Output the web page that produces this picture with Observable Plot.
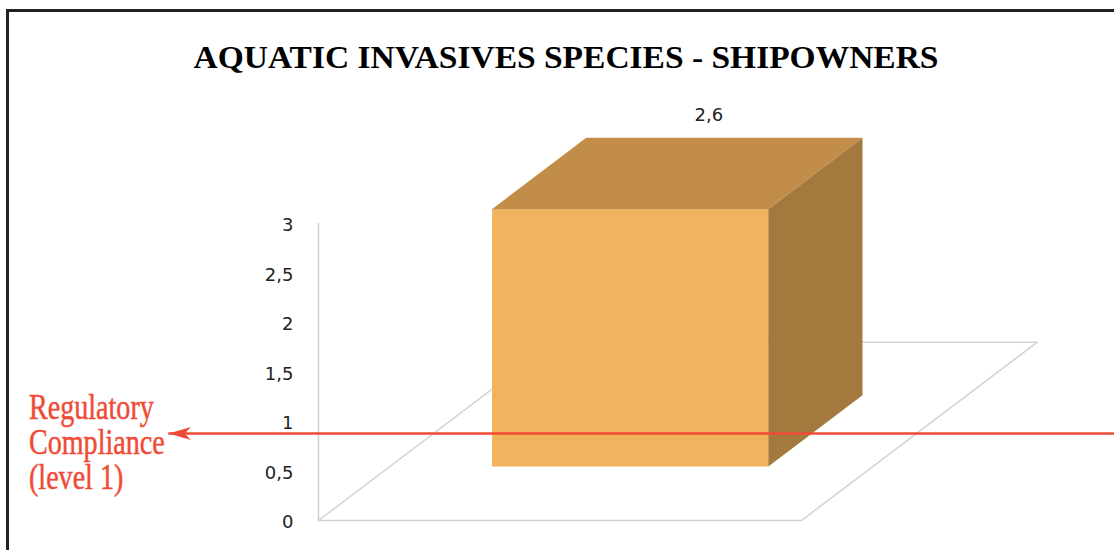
<!DOCTYPE html>
<html>
<head>
<meta charset="utf-8">
<script src="https://cdn.jsdelivr.net/npm/d3@7"></script>
<script src="https://cdn.jsdelivr.net/npm/@observablehq/plot@0.6"></script>
<style>
  html, body { margin: 0; padding: 0; background: #fff; }
  #wrap { position: relative; width: 1114px; height: 550px; overflow: hidden; background: #fff; }
  #frame { position: absolute; left: 6px; top: 9px; width: 1300px; height: 800px; border: 3px solid #222; box-sizing: border-box; }
  #chart { position: absolute; left: 0; top: 0; }
  #title { position: absolute; left: 566px; top: 42px; white-space: nowrap;
           font: bold 31px/31px "Liberation Serif", serif; color: #000;
           transform-origin: center top; }
  #note { position: absolute; left: 29px; top: 390px; white-space: nowrap;
          font: 36px/35px "Liberation Serif", serif; color: #EF4B36;
          -webkit-text-stroke: 0.5px #EF4B36;
          transform-origin: left top; transform: scaleX(0.78); }
</style>
</head>
<body>
<div id="wrap">
  <div id="frame"></div>
  <div id="chart"></div>
  <div id="title">AQUATIC INVASIVES SPECIES - SHIPOWNERS</div>
  <div id="note">Regulatory<br>Compliance<br>(level 1)</div>
</div>
<script>
// ---- data ----
const categories = ["Shipowners"];
const values = [2.6];
const valueLabels = ["2,6"];
const yTicks = [0, 0.5, 1, 1.5, 2, 2.5, 3];
const yTickLabels = ["0", "0,5", "1", "1,5", "2", "2,5", "3"];
const complianceLevel = [0.88];   // red annotation line, as drawn on the front axis

// ---- 3D look (style constants) ----
const DX = 0.4876;   // x-units of shift for full floor depth
const DY = 1.80;     // y-units of shift for full floor depth
const barHalf = 0.286, d0 = 0.3, d1 = 0.7;
const red = "#EF4A35";

const n = categories.length;
const bars = categories.map((c, i) => ({c, v: values[i], label: valueLabels[i], L: i + 0.5 - barHalf, R: i + 0.5 + barHalf}));

const floorPts = [
  {x: 0, y: 0}, {x: n, y: 0}, {x: n + DX, y: DY}, {x: DX, y: DY}, {x: 0, y: 0}
];
const frontFaces = bars.map(b => ({c: b.c, x1: b.L + d0 * DX, x2: b.R + d0 * DX, y1: d0 * DY, y2: b.v + d0 * DY}));
const topFaces = bars.flatMap(b => [d0, d1].map(d => ({c: b.c, x1: b.L + d * DX, y1: b.v + d * DY, x2: b.R + d * DX, y2: b.v + d * DY})));
const sideFaces = bars.flatMap(b => [d0, d1].map(d => ({c: b.c, x1: b.R + d * DX, y1: d * DY, x2: b.R + d * DX, y2: b.v + d * DY})));

const compliance = complianceLevel.map(v => ({level: v, from: n + 0.65, to: -0.31}));

const arrowHead = {
  draw(ctx) {
    ctx.moveTo(0, 0);
    ctx.lineTo(22, -6.5);
    ctx.lineTo(16, 0);
    ctx.lineTo(22, 6.5);
    ctx.closePath();
  }
};

const chart = Plot.plot({
  width: 1114,
  height: 550,
  marginLeft: 318,
  marginRight: 313,
  marginTop: 223,
  marginBottom: 30,
  x: {domain: [0, n], axis: null},
  y: {domain: [0, 3], axis: null},
  style: {fontFamily: "DejaVu Sans", fontSize: "18px", color: "#222", background: "transparent", overflow: "visible"},
  marks: [
    Plot.line(floorPts, {x: "x", y: "y", stroke: "#d2d2d2", strokeWidth: 1.5}),
    Plot.ruleX([0], {y1: 0, y2: 3, stroke: "#cfcfcf", strokeWidth: 1.5}),
    Plot.axisY(yTicks, {tickFormat: d => yTickLabels[yTicks.indexOf(d)], tickSize: 0, tickPadding: 25, fontSize: 18, dy: 2}),
    Plot.rect(frontFaces, {x1: "x1", x2: "x2", y1: "y1", y2: "y2", fill: "#F1B45E"}),
    Plot.area(topFaces, {x1: "x1", y1: "y1", x2: "x2", y2: "y2", z: "c", fill: "#C28D48"}),
    Plot.area(sideFaces, {x1: "x1", y1: "y1", x2: "x2", y2: "y2", z: "c", fill: "#A3793D"}),
    Plot.text(bars, {x: b => b.L + barHalf + d1 * DX, y: b => b.v + d1 * DY, text: "label", dx: -16, dy: -23, fontSize: 18, fill: "#222"}),
    Plot.ruleY(compliance, {y: "level", x1: "from", x2: "to", stroke: red, strokeWidth: 2.5}),
    Plot.dot(compliance, {x: "to", y: "level", symbol: arrowHead, fill: red, stroke: "none", r: 5})
  ]
});
document.getElementById("chart").appendChild(chart);

// stretch title to the reference width
const t = document.getElementById("title");
const w = t.getBoundingClientRect().width;
t.style.transform = `translateX(-50%) scaleX(${745 / w})`;
</script>
</body>
</html>
